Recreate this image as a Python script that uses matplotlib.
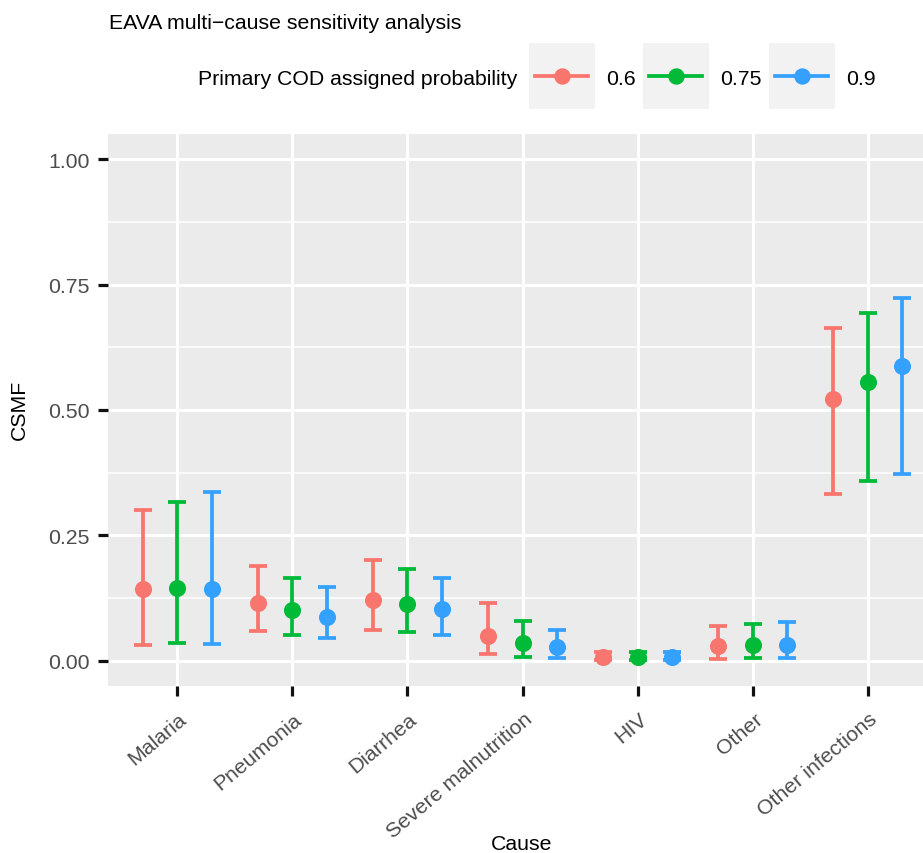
import matplotlib
matplotlib.use("Agg")
import matplotlib.pyplot as plt
from matplotlib.lines import Line2D
from matplotlib.patches import Rectangle
from matplotlib.transforms import ScaledTranslation
import numpy as np

# ---------------- data ----------------
causes = ["Malaria", "Pneumonia", "Diarrhea", "Severe malnutrition", "HIV", "Other", "Other infections"]
probs = ["0.6", "0.75", "0.9"]
colors = ["#F8766D", "#00BA38", "#35A1FF"]

est_06 = [0.144, 0.116, 0.122, 0.050, 0.007, 0.030, 0.521]
low_06 = [0.032, 0.060, 0.062, 0.013, 0.001, 0.004, 0.333]
up_06 = [0.301, 0.190, 0.201, 0.116, 0.017, 0.069, 0.664]

est_075 = [0.146, 0.102, 0.114, 0.035, 0.008, 0.031, 0.556]
low_075 = [0.035, 0.052, 0.058, 0.008, 0.001, 0.005, 0.359]
up_075 = [0.316, 0.166, 0.184, 0.079, 0.017, 0.073, 0.694]

est_09 = [0.143, 0.088, 0.103, 0.027, 0.008, 0.032, 0.587]
low_09 = [0.033, 0.045, 0.052, 0.005, 0.001, 0.005, 0.372]
up_09 = [0.336, 0.148, 0.166, 0.062, 0.018, 0.077, 0.724]

series_est = [est_06, est_075, est_09]
series_low = [low_06, low_075, low_09]
series_up = [up_06, up_075, up_09]

y_ticks = [0.00, 0.25, 0.50, 0.75, 1.00]
y_ticklabels = ["0.00", "0.25", "0.50", "0.75", "1.00"]

title = "EAVA multi\u2212cause sensitivity analysis"
legend_title = "Primary COD assigned probability"

# ---------------- figure ----------------
W, H = 923, 854
DPI = 100
plt.rcParams["font.family"] = ["Liberation Sans", "DejaVu Sans"]
FS = 15.3

fig = plt.figure(figsize=(W / DPI, H / DPI), dpi=DPI)
fig.patch.set_facecolor("white")

def fx(px):
    return px / W

def fy(py):
    return 1 - py / H

# panel 108..937 x, 135..687 y
ax = fig.add_axes([fx(108), fy(687), fx(937) - fx(108), fy(135) - fy(687)])
ax.set_facecolor("#EBEBEB")
for s in ax.spines.values():
    s.set_visible(False)

x = np.arange(1, len(causes) + 1)
dodge = [-0.3, 0.0, 0.3]

for k in range(len(probs)):
    e = np.array(series_est[k])
    lo = np.array(series_low[k])
    up = np.array(series_up[k])
    ax.errorbar(x + dodge[k], e, yerr=[e - lo, up - e], fmt="none",
                ecolor=colors[k], elinewidth=2.7, capsize=6.5, capthick=2.7, zorder=3)
    ax.plot(x + dodge[k], e, "o", color=colors[k], markersize=12.3,
            markeredgewidth=0, zorder=4)

ax.set_xlim(0.4, len(causes) + 0.6)
ax.set_ylim(-0.05, 1.05)
ax.set_xticks(x)
ax.set_xticklabels(causes)
ax.set_yticks(y_ticks)
ax.set_yticklabels(y_ticklabels)
ax.set_yticks([0.125, 0.375, 0.625, 0.875], minor=True)

ax.grid(which="major", color="white", linewidth=2.2, zorder=0)
ax.grid(which="minor", axis="y", color="white", linewidth=1.1, zorder=0)
ax.set_axisbelow(True)

ax.tick_params(axis="both", which="major", length=7.5, width=2.3, color="#111111",
               labelsize=FS, labelcolor="#4D4D4D")
ax.tick_params(axis="y", which="major", pad=6)
ax.tick_params(axis="x", which="major", pad=9)
ax.tick_params(which="minor", length=0)

offset = ScaledTranslation(1 / DPI, 0, fig.dpi_scale_trans)
for lab in ax.get_xticklabels():
    lab.set_rotation(40)
    lab.set_ha("right")
    lab.set_va("top")
    lab.set_rotation_mode("anchor")
    lab.set_transform(lab.get_transform() + offset)

# axis titles
fig.text(fx(29), fy(410), "CSMF", rotation=90, ha="right", va="center",
         fontsize=FS, color="black")
fig.text(fx(522), fy(850), "Cause", ha="center", va="baseline",
         fontsize=FS, color="black")

# title
fig.text(fx(109), fy(29), title, ha="left", va="baseline", fontsize=FS, color="black")

# legend (manual, horizontal like ggplot)
fig.text(fx(517), fy(85), legend_title, ha="right", va="baseline", fontsize=FS, color="black")
key_x0 = [529, 643, 769]
for k in range(len(probs)):
    x0 = key_x0[k]
    fig.add_artist(Rectangle((fx(x0), fy(110)), fx(66), fy(44) - fy(110),
                             transform=fig.transFigure, facecolor="#F2F2F2",
                             edgecolor="none", zorder=1))
    fig.add_artist(Line2D([fx(x0 + 6), fx(x0 + 59)], [fy(77), fy(77)],
                          transform=fig.transFigure, color=colors[k],
                          linewidth=2.7, zorder=2))
    fig.add_artist(Line2D([fx(x0 + 33)], [fy(77)], transform=fig.transFigure,
                          marker="o", color=colors[k], markersize=11.8,
                          markeredgewidth=0, zorder=3))
    fig.text(fx(x0 + 77), fy(85), probs[k], ha="left", va="baseline",
             fontsize=FS, color="black")

fig.savefig("out.png", dpi=DPI)
